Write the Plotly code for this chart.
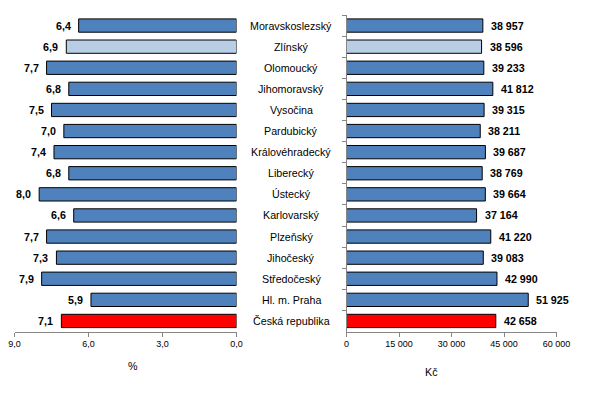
import plotly.graph_objects as go

regions = ["Moravskoslezský", "Zlínský", "Olomoucký", "Jihomoravský", "Vysočina",
           "Pardubický", "Královéhradecký", "Liberecký", "Ústecký", "Karlovarský",
           "Plzeňský", "Jihočeský", "Středočeský", "Hl. m. Praha", "Česká republika"]
growth_pct = [6.4, 6.9, 7.7, 6.8, 7.5, 7.0, 7.4, 6.8, 8.0, 6.6, 7.7, 7.3, 7.9, 5.9, 7.1]
wage_czk = [38957, 38596, 39233, 41812, 39315, 38211, 39687, 38769, 39664, 37164,
            41220, 39083, 42990, 51925, 42658]
left_ticks = [9, 6, 3, 0]
left_ticktext = ["9,0", "6,0", "3,0", "0,0"]
right_ticks = [0, 15000, 30000, 45000, 60000]
right_ticktext = ["0", "15 000", "30 000", "45 000", "60 000"]

BLUE = "#4F81BD"
LIGHT = "#B9CDE5"
RED = "#FF0000"
colors = [LIGHT if r == "Zlínský" else RED if r == "Česká republika" else BLUE for r in regions]

W, H = 609, 401
def px(x):
    return x / W
def py(y):
    return 1 - y / H

FONT = "Liberation Sans, Arial, sans-serif"
LBL = 10.7

fig = go.Figure()
fig.add_trace(go.Bar(
    y=regions, x=growth_pct, orientation="h", xaxis="x", yaxis="y",
    marker=dict(color=colors, line=dict(color="black", width=1)),
    showlegend=False, hoverinfo="skip",
))
fig.add_trace(go.Bar(
    y=regions, x=wage_czk, orientation="h", xaxis="x2", yaxis="y2",
    marker=dict(color=colors, line=dict(color="black", width=1)),
    showlegend=False, hoverinfo="skip",
))

ydom = [py(331.5), py(15)]
axis_common = dict(showgrid=False, zeroline=False, linecolor="#868686", linewidth=1,
                   ticks="outside", ticklen=4, tickcolor="#868686",
                   tickfont=dict(family=FONT, size=9, color="black"))

fig.update_layout(
    width=W, height=H, autosize=False, margin=dict(l=0, r=0, t=0, b=0, pad=0),
    paper_bgcolor="white", plot_bgcolor="white",
    bargap=0.37,
    font=dict(family=FONT, size=10, color="black"),
    xaxis=dict(domain=[px(14.5), px(236.5)], range=[9, 0], anchor="y",
               tickvals=left_ticks, ticktext=left_ticktext, showline=True,
               automargin=False, **axis_common),
    yaxis=dict(domain=ydom, anchor="x", type="category", autorange="reversed",
               showticklabels=False, showline=False, showgrid=False, zeroline=False,
               ticks="", automargin=False),
    xaxis2=dict(domain=[px(346.5), px(556.5)], range=[0, 60000], anchor="y2",
                tickvals=right_ticks, ticktext=right_ticktext, showline=True,
                automargin=False, **axis_common),
    yaxis2=dict(domain=ydom, anchor="x2", type="category", autorange="reversed",
                showticklabels=False, showline=True, linecolor="#868686", linewidth=1,
                ticks="outside", ticklen=4, tickcolor="#868686", tickson="boundaries",
                showgrid=False, zeroline=False, automargin=False),
)

annotations = []
bold = dict(family=FONT, size=LBL, color="black", weight="bold")
for r, v in zip(regions, growth_pct):
    annotations.append(dict(x=v, y=r, xref="x", yref="y",
                            text=f"{v:.1f}".replace(".", ","), showarrow=False,
                            xanchor="right", yanchor="middle", xshift=-6, font=bold))
for r, v in zip(regions, wage_czk):
    annotations.append(dict(x=v, y=r, xref="x2", yref="y2",
                            text=f"{v:,}".replace(",", " "), showarrow=False,
                            xanchor="left", yanchor="middle", xshift=6, font=bold))
for r in regions:
    annotations.append(dict(x=px(291), y=r, xref="paper", yref="y2", text=r,
                            showarrow=False, xanchor="center", yanchor="middle",
                            font=dict(family=FONT, size=LBL, color="black")))
annotations.append(dict(x=px(133), y=py(366), xref="paper", yref="paper", text="%",
                        showarrow=False, xanchor="center", yanchor="middle",
                        font=dict(family=FONT, size=LBL, color="black")))
annotations.append(dict(x=px(431), y=py(372), xref="paper", yref="paper", text="Kč",
                        showarrow=False, xanchor="center", yanchor="middle",
                        font=dict(family=FONT, size=LBL, color="black")))
fig.update_layout(annotations=annotations)

fig.write_html(
    "out.html",
    config={"displayModeBar": False, "responsive": False, "staticPlot": True},
    post_script="document.body.style.margin='0';document.body.style.overflow='hidden';",
)
